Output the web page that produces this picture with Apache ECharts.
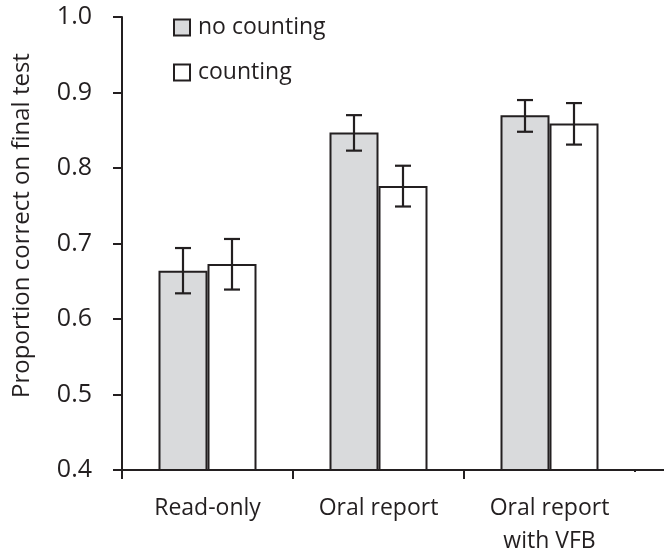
<!DOCTYPE html>
<html><head><meta charset="utf-8">
<script src="https://cdn.jsdelivr.net/npm/echarts@6/dist/echarts.min.js"></script>
<style>html,body{margin:0;padding:0;background:#fff}#c{width:664px;height:554px}</style>
</head><body><div id="c"></div>
<script>
const categories = ['Read-only', 'Oral report', 'Oral report\nwith VFB'];
const noCounting = [0.664, 0.847, 0.870];
const noCountingLow = [0.634, 0.823, 0.848];
const noCountingHigh = [0.694, 0.870, 0.890];
const counting = [0.673, 0.776, 0.859];
const countingLow = [0.639, 0.749, 0.831];
const countingHigh = [0.706, 0.803, 0.886];
const yTicks = [0.4, 0.5, 0.6, 0.7, 0.8, 0.9, 1.0];

const FONT = 'Open Sans';
const INK = '#231f20';
const GRAY = '#d9dadc';

const chart = echarts.init(document.getElementById('c'), null, {renderer: 'canvas'});

function errSeries(name, low, high, sign) {
  return {
    type: 'custom', name: name + ' err', z: 5,
    data: low.map((l, i) => [i, l, high[i]]),
    renderItem: function (params, api) {
      const band = api.size([1, 0])[0];
      const bw = band * 49 / 171;
      const x = api.coord([api.value(0), 0])[0] + sign * bw / 2;
      const yl = api.coord([api.value(0), api.value(1)])[1];
      const yh = api.coord([api.value(0), api.value(2)])[1];
      const c = 8;
      const st = {stroke: INK, lineWidth: 2.2};
      return {type: 'group', children: [
        {type: 'line', shape: {x1: x, y1: yl, x2: x, y2: yh}, style: st},
        {type: 'line', shape: {x1: x - c, y1: yl, x2: x + c, y2: yl}, style: st},
        {type: 'line', shape: {x1: x - c, y1: yh, x2: x + c, y2: yh}, style: st}
      ]};
    }
  };
}

chart.setOption({
  animation: false,
  textStyle: {fontFamily: FONT},
  grid: {left: 122, top: 17, width: 513, height: 453, containLabel: false, outerBoundsMode: 'none'},
  legend: {
    orient: 'vertical', left: 168, top: 11, itemGap: 22,
    itemWidth: 16, itemHeight: 16,
    textStyle: {fontFamily: FONT, fontSize: 23, color: INK, padding: [0, 0, 0, 3]},
    data: [
      {name: 'no counting', icon: 'rect', itemStyle: {color: GRAY, borderColor: INK, borderWidth: 2}},
      {name: 'counting', icon: 'rect', itemStyle: {color: '#fff', borderColor: INK, borderWidth: 2}}
    ]
  },
  xAxis: {
    type: 'category', data: categories,
    axisLine: {lineStyle: {color: INK, width: 2}},
    axisTick: {show: true, alignWithLabel: false, length: 9, lineStyle: {color: INK, width: 2}},
    axisLabel: {fontFamily: FONT, fontSize: 23, color: INK, margin: 22, lineHeight: 33, interval: 0}
  },
  yAxis: {
    type: 'value', min: 0.4, max: 1.0, interval: 0.1,
    name: 'Proportion correct on final test', nameLocation: 'middle', nameGap: 88,
    nameTextStyle: {fontFamily: FONT, fontSize: 24, color: INK, padding: [0, 0, 0, 36]},
    splitLine: {show: false},
    axisLine: {show: true, lineStyle: {color: INK, width: 2}},
    axisTick: {show: true, length: 9, lineStyle: {color: INK, width: 2}},
    axisLabel: {fontFamily: FONT, fontSize: 25, color: INK, margin: 30,
      formatter: v => yTicks.includes(Math.round(v * 10) / 10) ? v.toFixed(1) : ''}
  },
  graphic: [
    {type: 'rect', z: 100, shape: {x: 631, y: 472, width: 8, height: 12}, style: {fill: '#fff'}},
    {type: 'line', z: 100, shape: {x1: 634, y1: 470, x2: 664, y2: 470}, style: {stroke: INK, lineWidth: 2}}
  ],
  series: [
    {name: 'no counting', type: 'bar', data: noCounting, barWidth: 49, barGap: '0%',
      itemStyle: {color: GRAY, borderColor: INK, borderWidth: 2}},
    {name: 'counting', type: 'bar', data: counting, barWidth: 49, barGap: '0%',
      itemStyle: {color: '#fff', borderColor: INK, borderWidth: 2}},
    errSeries('no counting', noCountingLow, noCountingHigh, -1),
    errSeries('counting', countingLow, countingHigh, 1)
  ]
});
</script></body></html>
